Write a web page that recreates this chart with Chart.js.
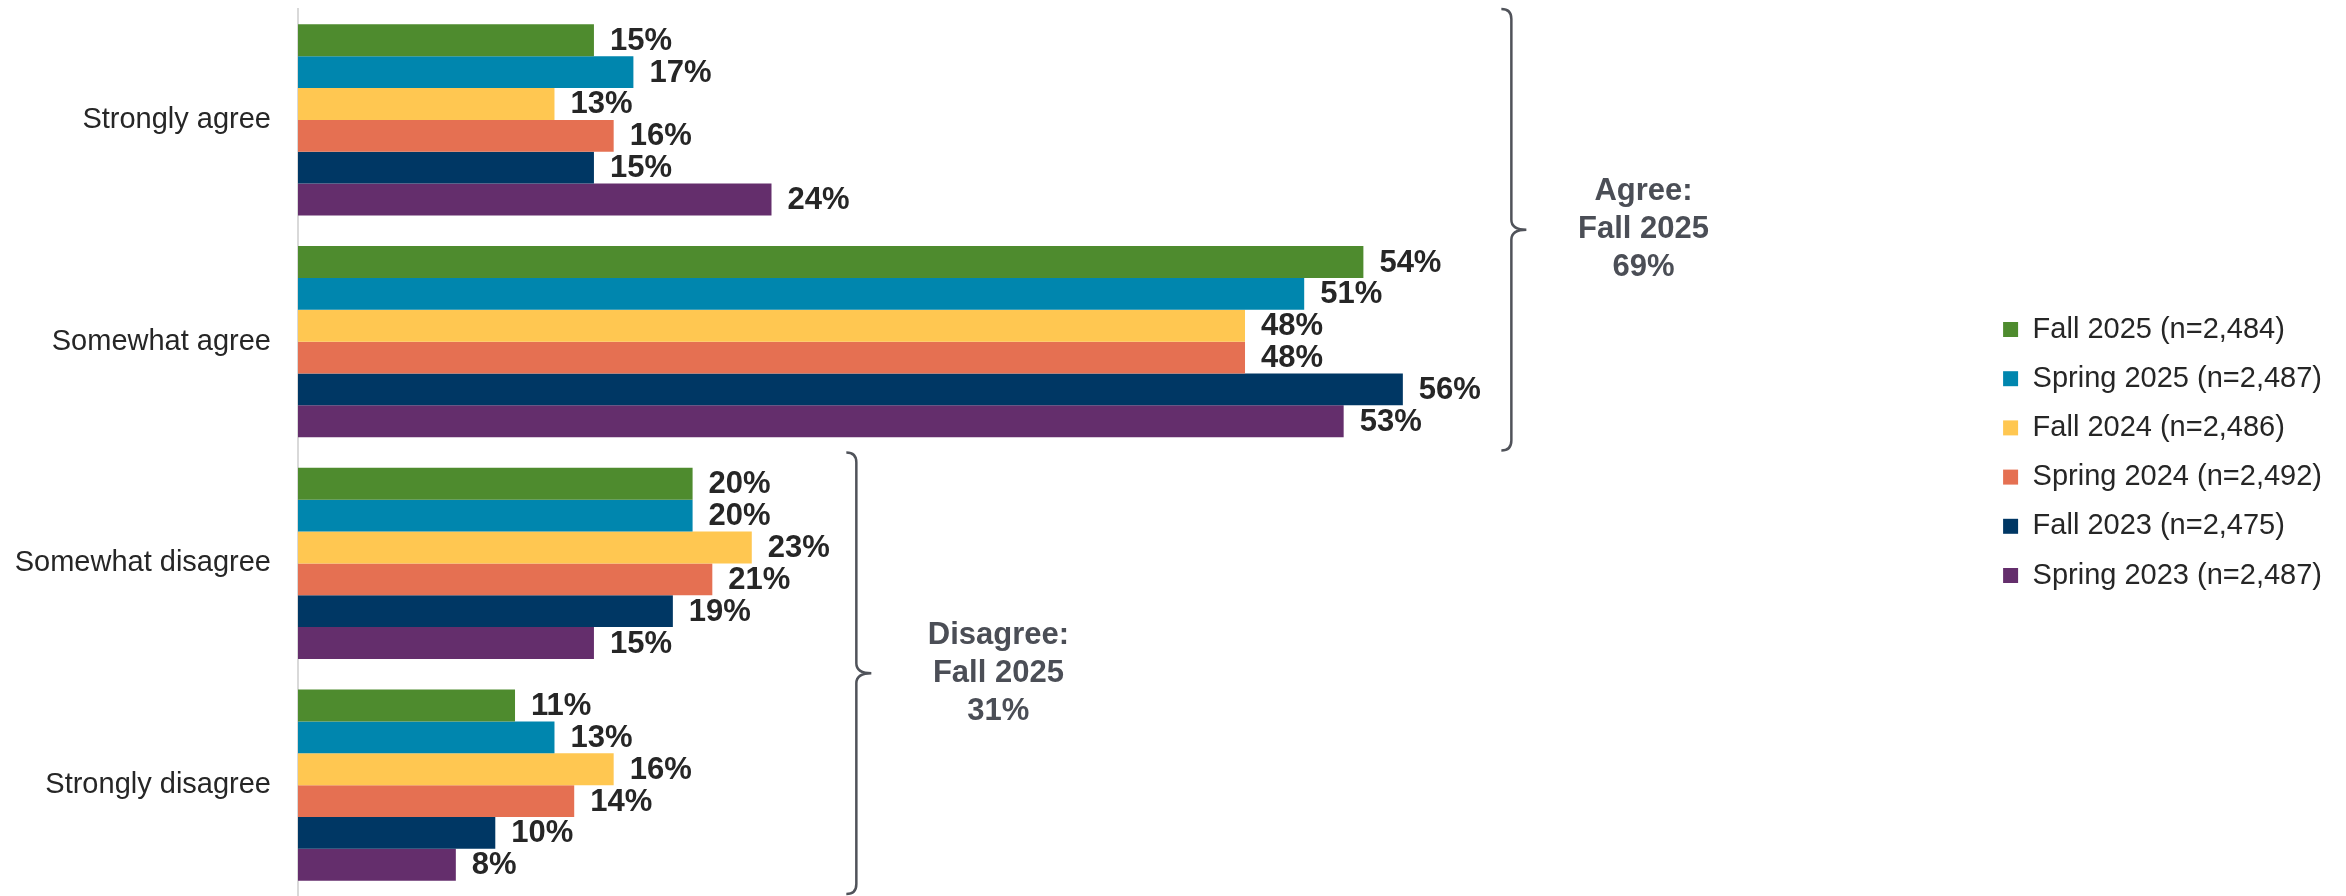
<!DOCTYPE html>
<html lang="en">
<head>
    <meta charset="UTF-8">
    <title>Agreement by term</title>
    <script src="https://cdn.jsdelivr.net/npm/chart.js"></script>
    <style>
        html, body { margin: 0; padding: 0; background: #ffffff; }
        .container { width: 2346px; height: 896px; position: relative; }
    </style>
</head>
<body>
    <div class="container">
        <canvas id="chart-agree"></canvas>
    </div>

<script>
    // categories and series
    const categorias = ['Strongly agree', 'Somewhat agree', 'Somewhat disagree', 'Strongly disagree'];
    const fall2025 = [15, 54, 20, 11];
    const spring2025 = [17, 51, 20, 13];
    const fall2024 = [13, 48, 23, 16];
    const spring2024 = [16, 48, 21, 14];
    const fall2023 = [15, 56, 19, 10];
    const spring2023 = [24, 53, 15, 8];
    const legendas = ['Fall 2025 (n=2,484)', 'Spring 2025 (n=2,487)', 'Fall 2024 (n=2,486)',
        'Spring 2024 (n=2,492)', 'Fall 2023 (n=2,475)', 'Spring 2023 (n=2,487)'];
    const cores = ['#4e8b2e', '#0086ae', '#ffc751', '#e57052', '#003764', '#642e6c'];

    // group summaries shown next to the braces
    const textoAgree = ['Agree:', 'Fall 2025', '69%'];
    const textoDisagree = ['Disagree:', 'Fall 2025', '31%'];

    const fonte = "'Liberation Sans', Arial, sans-serif";

    // value labels at the end of each bar
    const rotulos = {
        id: 'rotulos',
        afterDatasetsDraw(chart) {
            const ctx = chart.ctx;
            ctx.save();
            ctx.font = 'bold 31px ' + fonte;
            ctx.fillStyle = '#262626';
            ctx.textAlign = 'left';
            ctx.textBaseline = 'middle';
            chart.data.datasets.forEach((ds, i) => {
                chart.getDatasetMeta(i).data.forEach((bar, j) => {
                    ctx.fillText(ds.data[j] + '%', bar.x + 16, bar.y + 1);
                });
            });
            ctx.restore();
        }
    };

    // braces: first/last category covered, x of brace and of its text (axis values)
    const chaves = [
        { de: 0, ate: 1, xChave: 61.5, xTexto: 68.2, texto: textoAgree },
        { de: 2, ate: 3, xChave: 28.3, xTexto: 35.5, texto: textoDisagree }
    ];

    const chavesPlugin = {
        id: 'chaves',
        afterDraw(chart) {
            const ctx = chart.ctx;
            const xs = chart.scales.x;
            const ys = chart.scales.y;
            const passo = ys.getPixelForValue(1) - ys.getPixelForValue(0);
            ctx.save();
            chaves.forEach(c => {
                const topo = ys.getPixelForValue(c.de) - passo / 2;
                const fundo = ys.getPixelForValue(c.ate) + passo / 2 - 2;
                const meio = (topo + fundo) / 2;
                const x = xs.getPixelForValue(c.xChave);
                const r = 10;
                ctx.strokeStyle = '#50535a';
                ctx.lineWidth = 2.5;
                ctx.beginPath();
                ctx.moveTo(x - r, topo);
                ctx.quadraticCurveTo(x, topo, x, topo + r);
                ctx.lineTo(x, meio - r);
                ctx.quadraticCurveTo(x, meio, x + 15, meio);
                ctx.quadraticCurveTo(x, meio, x, meio + r);
                ctx.lineTo(x, fundo - r);
                ctx.quadraticCurveTo(x, fundo, x - r, fundo);
                ctx.stroke();

                ctx.font = 'bold 31px ' + fonte;
                ctx.fillStyle = '#4b4e56';
                ctx.textAlign = 'center';
                ctx.textBaseline = 'middle';
                const xt = xs.getPixelForValue(c.xTexto);
                c.texto.forEach((linha, k) => {
                    ctx.fillText(linha, xt, meio + (k - 1) * 38);
                });
            });
            ctx.restore();
        }
    };

    const series = [fall2025, spring2025, fall2024, spring2024, fall2023, spring2023];

    const ctxAgree = document.getElementById('chart-agree');

    new Chart(ctxAgree, {
        type: 'bar',
        data: {
            labels: categorias,
            datasets: series.map((s, i) => ({
                label: legendas[i],
                data: s,
                backgroundColor: cores[i],
                borderWidth: 0,
                categoryPercentage: 0.862,
                barPercentage: 1
            }))
        },
        options: {
            indexAxis: 'y',
            responsive: true,
            maintainAspectRatio: false,
            animation: false,
            layout: {
                padding: { top: 9, bottom: 0, left: 0, right: 14 }
            },
            scales: {
                x: {
                    min: 0,
                    max: 85.4,
                    display: false
                },
                y: {
                    grid: { display: false, drawTicks: false },
                    border: { display: true, color: '#d9d9d9', width: 2 },
                    ticks: {
                        padding: 27,
                        color: '#262626',
                        font: { family: fonte, size: 29 }
                    },
                    afterFit(scale) {
                        scale.width = 298;
                        scale.paddingTop = 0;
                        scale.paddingBottom = 0;
                    }
                }
            },
            plugins: {
                tooltip: { enabled: false },
                legend: {
                    position: 'right',
                    labels: {
                        boxWidth: 15,
                        boxHeight: 15,
                        padding: 20.2,
                        color: '#262626',
                        font: { family: fonte, size: 29 }
                    }
                }
            }
        },
        plugins: [rotulos, chavesPlugin]
    });
</script>
</body>
</html>
